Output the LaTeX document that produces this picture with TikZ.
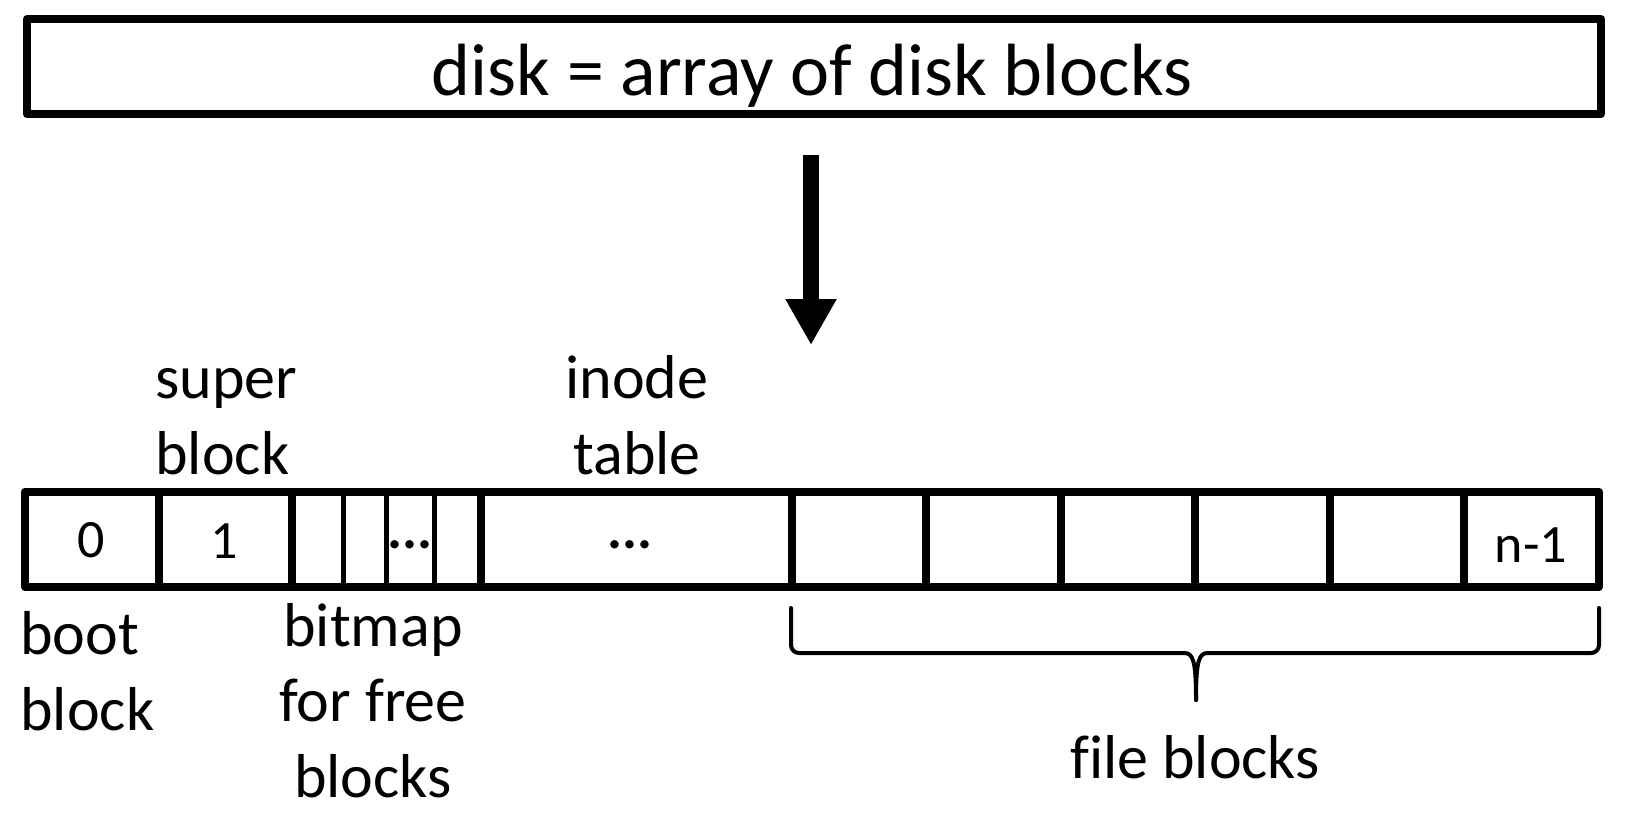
\documentclass[tikz,border=0pt]{standalone}
\usepackage{fontspec}
\setmainfont{Carlito}[Ligatures=NoCommon]
\usetikzlibrary{arrows.meta}
\begin{document}
\begin{tikzpicture}[x=0.5pt,y=-0.5pt,
  outerbox/.style={draw, line width=4pt, line join=round, inner sep=0pt},
  thickdiv/.style={line width=4pt},
  thindiv/.style={line width=2.5pt},
  bigtext/.style={font=\fontsize{37}{44}\selectfont, inner sep=0pt},
  lbl/.style={font=\fontsize{31}{37.75}\selectfont, inner sep=0pt},
  num/.style={font=\fontsize{27}{32}\selectfont, inner sep=0pt},
  dotsnum/.style={font=\fontsize{28}{32}\selectfont\bfseries, inner sep=0pt},
  bracepath/.style={line width=2pt, line cap=round, line join=round},
  bigarrow/.style={line width=8pt, -{Triangle[width=24pt,length=23pt]}}]
\useasboundingbox (0,0) rectangle (1626,830);
% top box
\node[outerbox, minimum width=787pt, minimum height=47.5pt] (disk) at (814,66.5) {};
\node[bigtext] (disktext) at (812,75.5) {disk = array of disk blocks};
% arrow
\coordinate (arrowtop) at (811,155);
\coordinate (arrowtip) at (811,345);
\draw[bigarrow] (arrowtop) -- (arrowtip);
% array
\node[outerbox, minimum width=787pt, minimum height=47.65pt] (array) at (812,539.35) {};
\foreach \x in {159,292,481,792,926.4,1060.8,1195.2,1329.6,1464}
  \draw[thickdiv] (\x,491.7) -- (\x,587);
\foreach \x in {343,386,434.5}
  \draw[thindiv] (\x,491.7) -- (\x,587);
% cell texts
\node[num] (c0) at (91.5,540.5) {0};
\node[num] (c1) at (224,541) {1};
\node[dotsnum] (cdots) at (410,545) {...};
\node[dotsnum] (idots) at (630,545) {...};
\node[num] (cn) at (1531,545) {n-1};
% labels (base anchor = baseline of last line)
\node[lbl, align=left, anchor=base west] (super) at (155,474) {super\\block};
\node[lbl, align=center, anchor=base] (inode) at (637,474) {inode\\table};
\node[lbl, align=left, anchor=base west] (boot) at (20,730) {boot\\block};
\node[lbl, align=center, anchor=base] (bitmap) at (373,797) {bitmap\\for free\\blocks};
% brace
\coordinate (bl) at (791,608);
\coordinate (br) at (1599,608);
\coordinate (btip) at (1196,700);
\draw[bracepath] (bl) -- (791,645) arc[start angle=180, end angle=90, radius=8] -- (1184,653)
  .. controls (1193,653) and (1196,660) .. (btip);
\draw[bracepath] (br) -- (1599,645) arc[start angle=0, end angle=90, radius=8] -- (1208,653)
  .. controls (1199,653) and (1196,660) .. (btip);
\node[lbl, anchor=base] (fileblocks) at (1195,778) {file blocks};
\end{tikzpicture}
\end{document}
